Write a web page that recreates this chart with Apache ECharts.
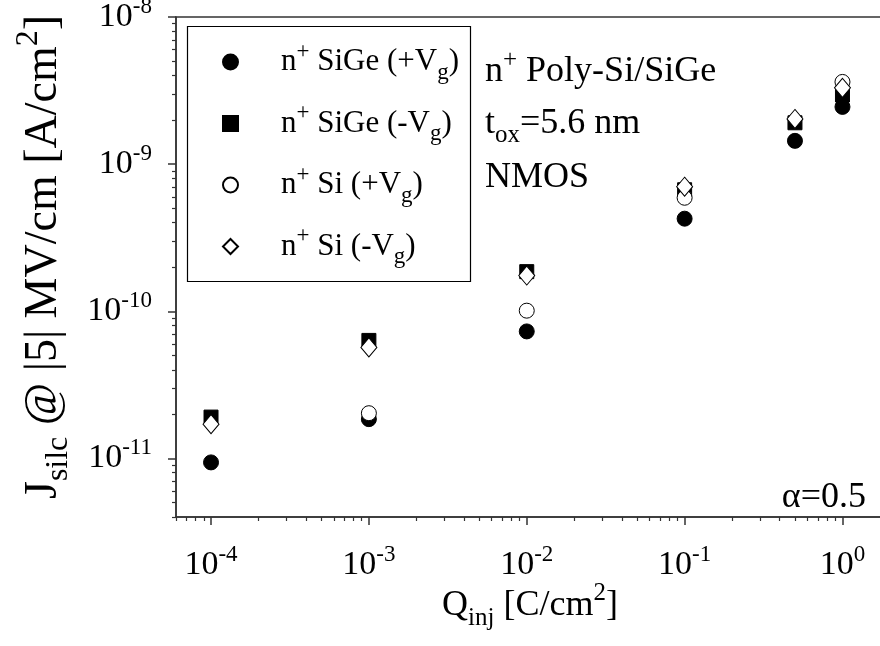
<!DOCTYPE html>
<html>
<head>
<meta charset="utf-8">
<script src="https://cdn.jsdelivr.net/npm/echarts@6/dist/echarts.min.js"></script>
<style>
  html, body { margin: 0; padding: 0; background: #fff; }
  #chart { width: 880px; height: 646px; }
</style>
</head>
<body>
<div id="chart"></div>
<script>
// Injected charge (C/cm^2) at which the SILC was measured
const qInj = [1e-4, 1e-3, 1e-2, 1e-1, 0.5, 1];

// J_silc at |5| MV/cm (A/cm^2) for each gate / polarity
const sigePos = [9.4e-12, 1.85e-11, 7.3e-11, 4.26e-10, 1.44e-9, 2.45e-9];   // n+ SiGe (+Vg)
const sigeNeg = [1.91e-11, 6.34e-11, 1.86e-10, 6.7e-10, 1.91e-9, 2.95e-9];  // n+ SiGe (-Vg)
const siPos   = [null, 2.03e-11, 1.01e-10, 5.91e-10, null, 3.62e-9];        // n+ Si (+Vg)
const siNeg   = [1.71e-11, 5.68e-11, 1.75e-10, 7.03e-10, 2.03e-9, 3.3e-9];  // n+ Si (-Vg)

const seriesNames = ['n+ SiGe (+Vg)', 'n+ SiGe (-Vg)', 'n+ Si (+Vg)', 'n+ Si (-Vg)'];
const legendRich = {
  'n+ SiGe (+Vg)': '{p|n}{s|+}{n| SiGe (+V}{d|g}{n|)}',
  'n+ SiGe (-Vg)': '{p|n}{s|+}{n| SiGe (-V}{d|g}{n|)}',
  'n+ Si (+Vg)':   '{p|n}{s|+}{n| Si (+V}{d|g}{n|)}',
  'n+ Si (-Vg)':   '{p|n}{s|+}{n| Si (-V}{d|g}{n|)}'
};

// Axis ranges and decade ticks
const xMin = 6e-5, xMax = 2;
const yMin = 4e-12, yMax = 1e-8;
const xMajorTicks = [1e-4, 1e-3, 1e-2, 1e-1, 1];
const yMajorTicks = [1e-11, 1e-10, 1e-9, 1e-8];
const mantissas = [2, 3, 4, 5, 6, 7, 8, 9];
const xDecades = [-5, -4, -3, -2, -1, 0];
const yDecades = [-12, -11, -10, -9];

function minorTicks(decades, lo, hi) {
  const out = [];
  decades.forEach(d => mantissas.forEach(m => {
    const v = Number((m * Math.pow(10, d)).toPrecision(6));
    if (v >= lo * 0.999 && v <= hi * 1.001) out.push(v);
  }));
  return out;
}
const xMinorTicks = minorTicks(xDecades, xMin, xMax);
const yMinorTicks = minorTicks(yDecades, yMin, yMax);

const FONT = '"Liberation Serif", "Times New Roman", serif';
const INK = '#000';
const AXIS = '#333';

// Rich-text styles: base text centred in a line of height lh,
// superscripts raised by `up` px and subscripts lowered by `down` px.
function richSet(size, small, up, down, lh, colorKey) {
  const c = {}; c[colorKey] = INK;
  return {
    n: Object.assign({ fontFamily: FONT, fontSize: size, lineHeight: lh, verticalAlign: 'middle' }, c),
    s: Object.assign({ fontFamily: FONT, fontSize: small, lineHeight: lh - 2 * up, verticalAlign: 'top' }, c),
    d: Object.assign({ fontFamily: FONT, fontSize: small, lineHeight: lh - 2 * down, verticalAlign: 'bottom' }, c)
  };
}

function powLabel(v) {
  const e = Math.round(Math.log10(v));
  return '{n|10}{s|' + e + '}';
}
const tickRich = richSet(34, 23, 15, 0, 44, 'color');

function mainAxis(min, max, majors, extra) {
  return Object.assign({
    type: 'log', logBase: 10, min: min, max: max,
    axisLine: { show: true, lineStyle: { color: AXIS, width: 1.5 } },
    axisTick: { show: true, inside: false, length: 8, customValues: majors, lineStyle: { color: AXIS, width: 1.5 } },
    minorTick: { show: false },
    splitLine: { show: false }
  }, extra);
}
function minorAxis(min, max, minors, extra) {
  return Object.assign({
    type: 'log', logBase: 10, min: min, max: max,
    axisLine: { show: false },
    axisTick: { show: true, inside: false, length: 4, customValues: minors, lineStyle: { color: AXIS, width: 1.2 } },
    minorTick: { show: false },
    splitLine: { show: false },
    axisLabel: { show: false }
  }, extra);
}

const symbolSpec = [
  { symbol: 'circle',  size: 15, color: '#000' },
  { symbol: 'rect',    size: 14, color: '#000' },
  { symbol: 'circle',  size: 15, color: '#fff' },
  { symbol: 'diamond', size: [16, 19], color: '#fff' }
];
const seriesData = [sigePos, sigeNeg, siPos, siNeg];

const series = seriesNames.map((name, i) => ({
  name: name,
  type: 'scatter',
  xAxisIndex: 0,
  yAxisIndex: 0,
  symbol: symbolSpec[i].symbol,
  symbolSize: symbolSpec[i].size,
  itemStyle: { color: symbolSpec[i].color, borderColor: '#000', borderWidth: 1, opacity: 1 },
  emphasis: { disabled: true },
  z: 2 + i,
  data: qInj.map((q, k) => seriesData[i][k] == null ? null : [q, seriesData[i][k]]).filter(d => d)
}));

const LEG_LH = 44;
const legendStyles = richSet(31, 23, 17, 10, LEG_LH, 'color');
legendStyles.p = Object.assign({}, legendStyles.n, { padding: [0, 0, 0, 38] });

const noteRich = richSet(36, 25, 17, 10, 48, 'fill');
const xTitleRich = richSet(36, 25, 18, 11, 50, 'fill');
const yTitleRich = richSet(46, 32, 22, 13, 62, 'fill');

const option = {
  animation: false,
  backgroundColor: '#fff',
  grid: {
    left: 176, top: 17, right: -10, bottom: 129,
    outerBoundsMode: 'none',
    containLabel: false,
    show: true, borderColor: AXIS, borderWidth: 1.5, backgroundColor: 'transparent'
  },
  xAxis: [
    mainAxis(xMin, xMax, xMajorTicks, {
      position: 'bottom',
      axisLabel: { show: true, customValues: xMajorTicks, formatter: powLabel, rich: tickRich, margin: 26 }
    }),
    minorAxis(xMin, xMax, xMinorTicks, { position: 'bottom', gridIndex: 0 })
  ],
  yAxis: [
    mainAxis(yMin, yMax, yMajorTicks, {
      position: 'left',
      axisLabel: { show: true, customValues: yMajorTicks, formatter: powLabel, rich: tickRich, margin: 24 }
    }),
    minorAxis(yMin, yMax, yMinorTicks, { position: 'left', gridIndex: 0 })
  ],
  legend: {
    orient: 'vertical',
    left: 222, top: 62 - LEG_LH / 2,
    padding: 0,
    itemWidth: 15, itemHeight: 15,
    itemGap: 61.5 - LEG_LH,
    selectedMode: false,
    data: seriesNames,
    formatter: name => legendRich[name],
    textStyle: { rich: legendStyles }
  },
  graphic: [
    { type: 'rect', shape: { x: 187.5, y: 26.5, width: 283, height: 255 },
      style: { fill: 'none', stroke: INK, lineWidth: 1.2 }, z: 10 },
    { type: 'text', x: 485, y: 72, z: 10,
      style: { text: '{n|n}{s|+}{n| Poly-Si/SiGe}', align: 'left', verticalAlign: 'middle', rich: noteRich } },
    { type: 'text', x: 485, y: 124, z: 10,
      style: { text: '{n|t}{d|ox}{n|=5.6 nm}', align: 'left', verticalAlign: 'middle', rich: noteRich } },
    { type: 'text', x: 485, y: 178, z: 10,
      style: { text: '{n|NMOS}', align: 'left', verticalAlign: 'middle', rich: noteRich } },
    { type: 'text', x: 866, y: 498, z: 10,
      style: { text: '{n|α=0.5}', align: 'right', verticalAlign: 'middle', rich: noteRich } },
    { type: 'text', x: 530, y: 606, z: 10,
      style: { text: '{n|Q}{d|inj}{n| [C/cm}{s|2}{n|]}', align: 'center', verticalAlign: 'middle', rich: xTitleRich } },
    { type: 'text', x: 44, y: 257, rotation: Math.PI / 2, z: 10,
      style: { text: '{n|J}{d|silc}{n| @ |5| MV/cm [A/cm}{s|2}{n|]}', align: 'center', verticalAlign: 'middle', rich: yTitleRich } }
  ],
  series: series
};

const chart = echarts.init(document.getElementById('chart'), null, { renderer: 'canvas' });
chart.setOption(option);
</script>
</body>
</html>
